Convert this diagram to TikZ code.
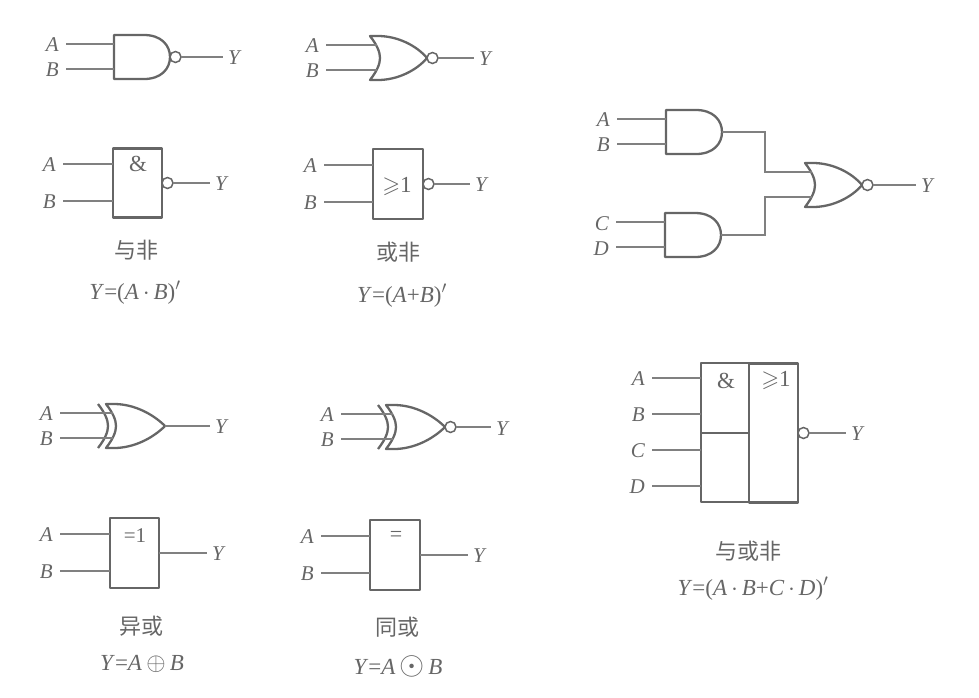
\documentclass[tikz,border=0pt]{standalone}
\usepackage{amssymb}
\usepackage{fontspec}
\setmainfont{Liberation Serif}
\newfontfamily\cjk{Noto Sans CJK SC}
\usetikzlibrary{positioning}
\definecolor{inkgray}{gray}{0.40}
\definecolor{wiregray}{gray}{0.50}
\tikzset{
  body/.style={draw=inkgray,line width=2.3pt,line join=round},
  wire/.style={draw=wiregray,line width=1.3pt},
  gatebox/.style={body,rectangle,inner sep=0pt,outer sep=0pt,text=inkgray,font=\fontsize{20}{24}\selectfont},
  bubble/.style={circle,draw=inkgray,line width=1.5pt,fill=white,minimum size=11pt,inner sep=0pt,outer sep=0pt},
  lab/.style={anchor=east,inner xsep=7pt,inner ysep=0pt,text=inkgray,font=\fontsize{21}{24}\selectfont\itshape},
  outlab/.style={lab,anchor=west,inner xsep=5pt},
  glyph/.style={text=inkgray,inner sep=0pt,font=\fontsize{23}{26}\selectfont},
  caption/.style={text=inkgray,inner sep=0pt,font=\fontsize{22}{24}\selectfont\cjk},
  formula/.style={text=inkgray,inner sep=0pt,font=\fontsize{23}{24}\selectfont},
  andbody/.pic={
    \draw[body] (0,-22) -- (30,-22) .. controls (47,-22) and (56,-12) .. (56,0)
      .. controls (56,12) and (47,22) .. (30,22) -- (0,22) -- cycle;
    \coordinate (-a) at (0,-13);
    \coordinate (-b) at (0,12);
    \coordinate (-o) at (56,0);
  },
  orbody/.pic={
    \draw[body] (0,-22) .. controls (7,-13) and (10,-6) .. (10,0)
      .. controls (10,6) and (7,13) .. (0,22) -- (8,22)
      .. controls (28,22) and (47,12) .. (57,0)
      .. controls (47,-12) and (28,-22) .. (8,-22) -- cycle;
    \coordinate (-a) at (6.5,-13);
    \coordinate (-b) at (6.5,12);
    \coordinate (-o) at (57,0);
  },
  xorbody/.pic={
    \draw[body] (0,-22) .. controls (7,-13) and (10,-6) .. (10,0)
      .. controls (10,6) and (7,13) .. (0,22) -- (8,22)
      .. controls (28,22) and (47,12) .. (59,0)
      .. controls (47,-12) and (28,-22) .. (8,-22) -- cycle;
    \draw[body] (-8,-22) .. controls (-1,-13) and (2,-6) .. (2,0)
      .. controls (2,6) and (-1,13) .. (-8,22);
    \coordinate (-a) at (6.5,-13);
    \coordinate (-b) at (6.5,12);
    \coordinate (-o) at (59,0);
  },
}
\newcommand{\inlabel}[4]{%
  \node[lab] (#1) at (#3) {#2};
  \draw[wire] (#1.east |- #4) -- (#4);}
\newcommand{\outlabel}[4]{%
  \node[outlab] (#1) at (#3) {#2};
  \draw[wire] (#4.east) -- (#4.east -| #1.west);}
\begin{document}
\begin{tikzpicture}[x=1pt,y=-1pt]
  \useasboundingbox (0,0) rectangle (979,697);

  % first column, top
  \pic (nand) at (114,57) {andbody};
  \node[bubble,right=0pt of nand-o] (nandn) {};
  \inlabel{nandA}{A}{66,45}{nand-a}
  \inlabel{nandB}{B}{66,70}{nand-b}
  \outlabel{nandY}{Y}{223,58}{nandn}

  \node[gatebox,minimum width=49pt,minimum height=69pt] (boxnand) at (137.5,183) {};
  \node[glyph] (ampa) at (138,164) {\&};
  \node[bubble,right=0pt of boxnand] (boxnandn) {};
  \coordinate (boxnand-a) at (boxnand.west |- 0,164);
  \coordinate (boxnand-b) at (boxnand.west |- 0,201);
  \inlabel{bnA}{A}{63,165}{boxnand-a}
  \inlabel{bnB}{B}{63,202}{boxnand-b}
  \outlabel{bnY}{Y}{210,184}{boxnandn}
  \node[caption] (capnand) at (136,250) {与非};
  \node[formula] (fnand) at (135,293) {\textit{Y}=(\textit{A}\,$\cdot$\,\textit{B})$'$};

  % second column, top
  \pic (nor) at (370,58) {orbody};
  \node[bubble,right=0pt of nor-o] (norn) {};
  \inlabel{norA}{A}{326,46}{nor-a}
  \inlabel{norB}{B}{326,71}{nor-b}
  \outlabel{norY}{Y}{474,59}{norn}

  \node[gatebox,minimum width=50pt,minimum height=70pt] (boxnor) at (398,184) {};
  \node[glyph] (geone) at (397,186) {$\geqslant$1};
  \node[bubble,right=0pt of boxnor] (boxnorn) {};
  \coordinate (boxnor-a) at (boxnor.west |- 0,165);
  \coordinate (boxnor-b) at (boxnor.west |- 0,202);
  \inlabel{bsA}{A}{324,166}{boxnor-a}
  \inlabel{bsB}{B}{324,203}{boxnor-b}
  \outlabel{bsY}{Y}{470,185}{boxnorn}
  \node[caption] (capnor) at (398,252) {或非};
  \node[formula] (fnor) at (402,296) {\textit{Y}=(\textit{A}+\textit{B})$'$};

  % and-nor network
  \pic (anda) at (666,132) {andbody};
  \pic (andb) at (665,235) {andbody};
  \pic (norc) at (805,185) {orbody};
  \node[bubble,right=0pt of norc-o] (norcn) {};
  \inlabel{netA}{A}{617,120}{anda-a}
  \inlabel{netB}{B}{617,145}{anda-b}
  \inlabel{netC}{C}{616,224}{andb-a}
  \inlabel{netD}{D}{616,249}{andb-b}
  \outlabel{netY}{Y}{916,186}{norcn}
  \draw[wire] (anda-o) -| (765,172) -- (norc-a);
  \draw[wire] (andb-o) -| (765,197) -- (norc-b);

  % first column, bottom
  \pic (xor) at (106,426) {xorbody};
  \inlabel{xorA}{A}{60,414}{xor-a}
  \inlabel{xorB}{B}{60,439}{xor-b}
  \node[outlab] (xorY) at (210,427) {Y};
  \draw[wire] (xor-o) -- (xor-o -| xorY.west);

  \node[gatebox,minimum width=49pt,minimum height=70pt] (boxxor) at (134.5,553) {};
  \node[glyph,font=\fontsize{21}{24}\selectfont] (eqone) at (135,536) {=1};
  \coordinate (boxxor-a) at (boxxor.west |- 0,534);
  \coordinate (boxxor-b) at (boxxor.west |- 0,571);
  \inlabel{bxA}{A}{60,535}{boxxor-a}
  \inlabel{bxB}{B}{60,572}{boxxor-b}
  \outlabel{bxY}{Y}{207,554}{boxxor}
  \node[caption] (capxor) at (141,626) {异或};
  \node[formula] (fxor) at (142,664) {\textit{Y}=\textit{A}$\,\oplus\,$\textit{B}};

  % second column, bottom
  \pic (xnor) at (386,427) {xorbody};
  \node[bubble,right=0pt of xnor-o] (xnorn) {};
  \inlabel{xnA}{A}{341,415}{xnor-a}
  \inlabel{xnB}{B}{341,440}{xnor-b}
  \outlabel{xnY}{Y}{491,429}{xnorn}

  \node[gatebox,minimum width=50pt,minimum height=70pt] (boxxnor) at (395,555) {};
  \node[glyph,font=\fontsize{22}{24}\selectfont] (eqsign) at (396,536) {=};
  \coordinate (boxxnor-a) at (boxxnor.west |- 0,536);
  \coordinate (boxxnor-b) at (boxxnor.west |- 0,573);
  \inlabel{bqA}{A}{321,537}{boxxnor-a}
  \inlabel{bqB}{B}{321,574}{boxxnor-b}
  \outlabel{bqY}{Y}{468,556}{boxxnor}
  \node[caption] (capxnor) at (397,627) {同或};
  \node[formula] (fxnor) at (398,666) {\textit{Y}=\textit{A}\,\scalebox{1.3}{$\odot$}\,\textit{B}};

  % and-or-invert box
  \node[gatebox,minimum width=48pt,minimum height=69.5pt] (aoiup) at (725,398) {};
  \node[gatebox,minimum width=48pt,minimum height=69.5pt] (aoilow) at (725,467.5) {};
  \node[gatebox,minimum width=49pt,minimum height=139pt] (aoior) at (773.5,433) {};
  \node[glyph] (aoiamp) at (726,381) {\&};
  \node[glyph] (aoige) at (776,380) {$\geqslant$1};
  \node[bubble,right=0pt of aoior] (aoin) {};
  \coordinate (aoi-a) at (aoiup.west |- 0,378);
  \coordinate (aoi-b) at (aoiup.west |- 0,414);
  \coordinate (aoi-c) at (aoilow.west |- 0,450);
  \coordinate (aoi-d) at (aoilow.west |- 0,486);
  \inlabel{aoiA}{A}{652,379}{aoi-a}
  \inlabel{aoiB}{B}{652,415}{aoi-b}
  \inlabel{aoiC}{C}{652,451}{aoi-c}
  \inlabel{aoiD}{D}{652,487}{aoi-d}
  \outlabel{aoiY}{Y}{846,434}{aoin}
  \node[caption] (capaoi) at (748,551) {与或非};
  \node[formula] (faoi) at (753,589) {\textit{Y}=(\textit{A}\,$\cdot$\,\textit{B}+\textit{C}\,$\cdot$\,\textit{D})$'$};
\end{tikzpicture}
\end{document}
